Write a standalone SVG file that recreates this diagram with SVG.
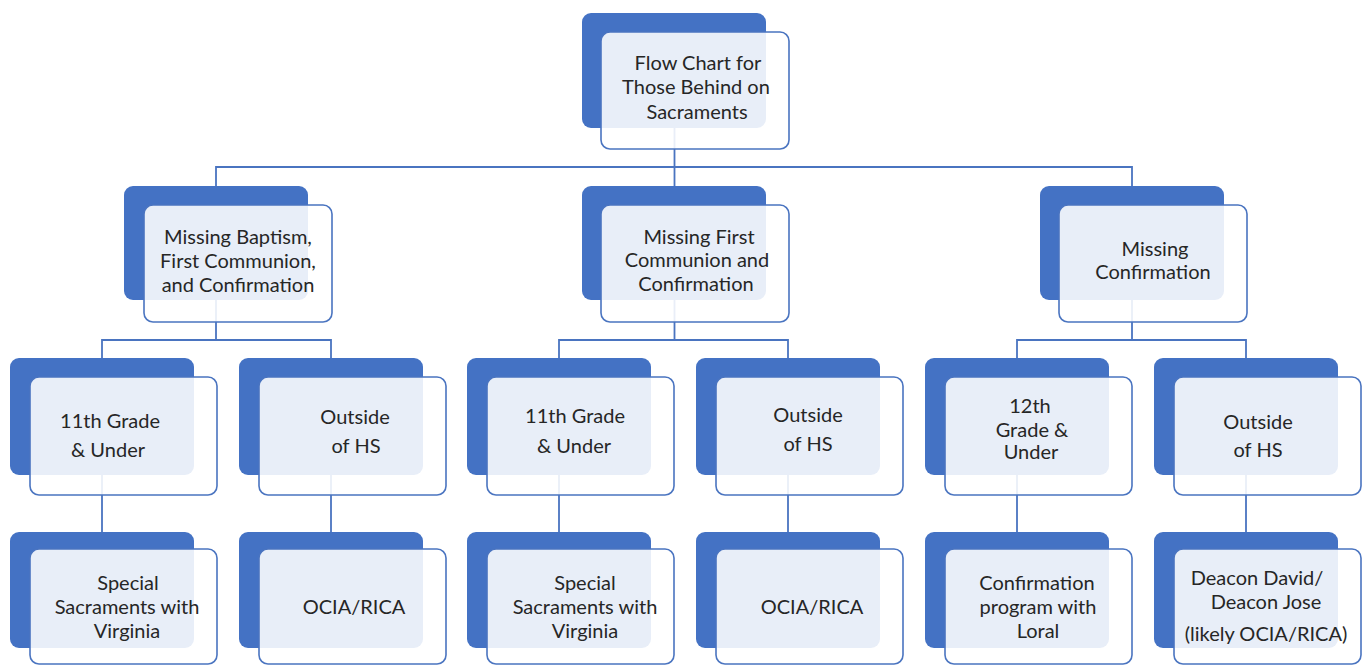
<svg xmlns="http://www.w3.org/2000/svg" width="1363" height="665" viewBox="0 0 1363 665">
<style>
.bk{fill:#4472c4}
.fr{fill:#ffffff;fill-opacity:0.88;stroke:#4a74c0;stroke-width:1.6}
.t{font-family:Lato,"Liberation Sans",sans-serif;font-size:20px;fill:#262626;text-anchor:middle}
.c{fill:none;stroke:#4a74c0;stroke-width:1.8}
</style>
<rect width="1363" height="665" fill="#ffffff"/>
<g id="connectors" class="c">
<path d="M674.5 128 V186 M216 186 V167 H1132 V186"/>
<path d="M216 300 V340 M102 358 V340 H331 V358"/>
<path d="M674.5 300 V340 M559 358 V340 H788 V358"/>
<path d="M1132 300 V340 M1017 358 V340 H1246 V358"/>
<path d="M102 475 V532 M331 475 V532 M559 475 V532 M788 475 V532 M1017 475 V532 M1246 475 V532"/>
</g>
<g id="n-root">
<rect class="bk" x="582" y="13" width="184" height="115" rx="9"/>
<rect class="fr" x="601" y="32" width="188" height="117" rx="9"/>
<text class="t" x="698" y="70">Flow Chart for</text>
<text class="t" x="696" y="94">Those Behind on</text>
<text class="t" x="697" y="119">Sacraments</text>
</g>
<g id="n-bfc">
<rect class="bk" x="124" y="186" width="184" height="114" rx="9"/>
<rect class="fr" x="144" y="205" width="188" height="117" rx="9"/>
<text class="t" x="238" y="244">Missing Baptism,</text>
<text class="t" x="238" y="268">First Communion,</text>
<text class="t" x="238" y="292">and Confirmation</text>
</g>
<g id="n-fc">
<rect class="bk" x="582" y="186" width="184" height="114" rx="9"/>
<rect class="fr" x="601" y="205" width="188" height="117" rx="9"/>
<text class="t" x="699" y="244">Missing First</text>
<text class="t" x="697" y="267">Communion and</text>
<text class="t" x="696" y="291">Confirmation</text>
</g>
<g id="n-c">
<rect class="bk" x="1040" y="186" width="184" height="114" rx="9"/>
<rect class="fr" x="1059" y="205" width="188" height="117" rx="9"/>
<text class="t" x="1155" y="256">Missing</text>
<text class="t" x="1153" y="279">Confirmation</text>
</g>
<g id="n-l3-1">
<rect class="bk" x="10" y="358" width="184" height="117" rx="9"/>
<rect class="fr" x="30" y="377" width="187" height="118" rx="9"/>
<text class="t" x="110" y="428">11th Grade</text>
<text class="t" x="108" y="457">&amp; Under</text>
</g>
<g id="n-l3-2">
<rect class="bk" x="239" y="358" width="184" height="117" rx="9"/>
<rect class="fr" x="259" y="377" width="187" height="118" rx="9"/>
<text class="t" x="355" y="424">Outside</text>
<text class="t" x="356" y="453">of HS</text>
</g>
<g id="n-l3-3">
<rect class="bk" x="467" y="358" width="184" height="117" rx="9"/>
<rect class="fr" x="487" y="377" width="187" height="118" rx="9"/>
<text class="t" x="575" y="423">11th Grade</text>
<text class="t" x="574" y="453">&amp; Under</text>
</g>
<g id="n-l3-4">
<rect class="bk" x="696" y="358" width="184" height="117" rx="9"/>
<rect class="fr" x="716" y="377" width="187" height="118" rx="9"/>
<text class="t" x="808" y="422">Outside</text>
<text class="t" x="808" y="451">of HS</text>
</g>
<g id="n-l3-5">
<rect class="bk" x="925" y="358" width="184" height="117" rx="9"/>
<rect class="fr" x="945" y="377" width="187" height="118" rx="9"/>
<text class="t" x="1030" y="413">12th</text>
<text class="t" x="1032" y="437">Grade &amp;</text>
<text class="t" x="1031" y="459">Under</text>
</g>
<g id="n-l3-6">
<rect class="bk" x="1154" y="358" width="184" height="117" rx="9"/>
<rect class="fr" x="1174" y="377" width="187" height="118" rx="9"/>
<text class="t" x="1258" y="429">Outside</text>
<text class="t" x="1258" y="457">of HS</text>
</g>
<g id="n-l4-1">
<rect class="bk" x="10" y="532" width="184" height="116" rx="9"/>
<rect class="fr" x="30" y="549" width="187" height="115" rx="9"/>
<text class="t" x="128" y="590">Special</text>
<text class="t" x="127" y="614">Sacraments with</text>
<text class="t" x="127" y="638">Virginia</text>
</g>
<g id="n-l4-2">
<rect class="bk" x="239" y="532" width="184" height="116" rx="9"/>
<rect class="fr" x="259" y="549" width="187" height="115" rx="9"/>
<text class="t" x="354" y="614">OCIA/RICA</text>
</g>
<g id="n-l4-3">
<rect class="bk" x="467" y="532" width="184" height="116" rx="9"/>
<rect class="fr" x="487" y="549" width="187" height="115" rx="9"/>
<text class="t" x="585" y="590">Special</text>
<text class="t" x="585" y="614">Sacraments with</text>
<text class="t" x="585" y="638">Virginia</text>
</g>
<g id="n-l4-4">
<rect class="bk" x="696" y="532" width="184" height="116" rx="9"/>
<rect class="fr" x="716" y="549" width="187" height="115" rx="9"/>
<text class="t" x="812" y="614">OCIA/RICA</text>
</g>
<g id="n-l4-5">
<rect class="bk" x="925" y="532" width="184" height="116" rx="9"/>
<rect class="fr" x="945" y="549" width="187" height="115" rx="9"/>
<text class="t" x="1037" y="590">Confirmation</text>
<text class="t" x="1038" y="614">program with</text>
<text class="t" x="1038" y="638">Loral</text>
</g>
<g id="n-l4-6">
<rect class="bk" x="1154" y="532" width="184" height="116" rx="9"/>
<rect class="fr" x="1174" y="549" width="187" height="115" rx="9"/>
<text class="t" x="1257" y="585">Deacon David/</text>
<text class="t" x="1266" y="609">Deacon Jose</text>
<text class="t" x="1266" y="641">(likely OCIA/RICA)</text>
</g>
</svg>
